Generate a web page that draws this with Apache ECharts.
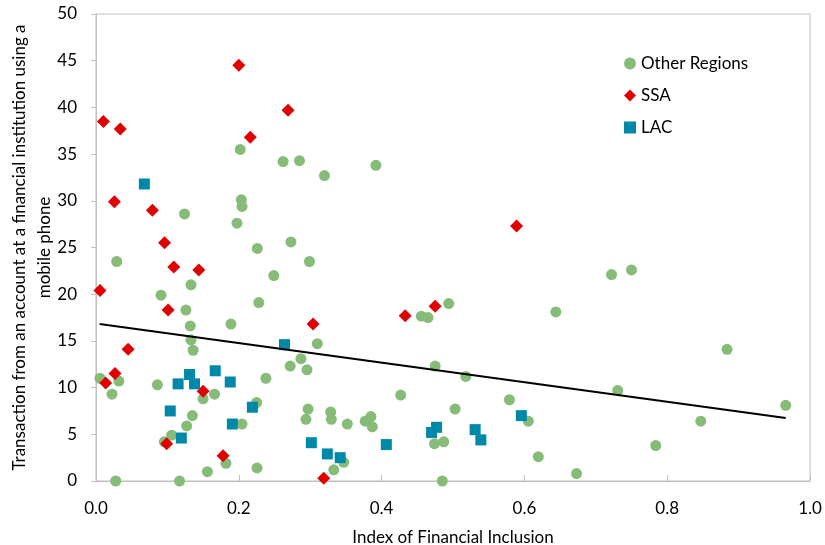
<!DOCTYPE html>
<html>
<head>
<meta charset="utf-8">
<script src="https://cdn.jsdelivr.net/npm/echarts@6/dist/echarts.min.js"></script>
<style>
html,body{margin:0;padding:0;background:#fff;}
#c{width:825px;height:545px;}
</style>
</head>
<body>
<div id="c"></div>
<script>
// ---- Data ----
var otherX = [0.202,0.262,0.285,0.320,0.2035,0.2045,0.124,0.1975,0.273,0.226,0.392,
  0.029,0.299,0.249,0.133,0.091,0.228,0.126,0.132,0.189,0.133,0.136,0.310,0.287,0.272,0.2955,
  0.0056,0.032,0.0224,0.086,0.238,0.150,0.166,0.225,0.135,0.127,0.2045,0.297,0.294,0.106,0.0957,
  0.182,0.156,0.2255,0.0276,0.117,
  0.4556,0.465,0.494,0.644,0.475,0.518,0.4267,0.579,0.503,0.3287,0.3296,0.352,0.377,0.385,0.387,
  0.6055,0.474,0.487,0.347,0.333,0.6195,0.485,
  0.722,0.750,0.8838,0.7307,0.966,0.847,0.784,0.673];
var otherY = [35.5,34.2,34.3,32.7,30.1,29.4,28.6,27.6,25.6,24.9,33.8,
  23.5,23.5,22.0,21.0,19.9,19.1,18.3,16.6,16.8,15.1,14.0,14.7,13.1,12.3,11.9,
  11.0,10.7,9.3,10.3,11.0,8.8,9.3,8.4,7.0,5.9,6.1,7.7,6.6,4.9,4.2,
  1.9,1.0,1.4,0.0,0.0,
  17.65,17.5,19.0,18.1,12.3,11.2,9.2,8.7,7.7,7.4,6.6,6.1,6.4,6.9,5.8,
  6.4,4.0,4.2,2.0,1.2,2.6,0.0,
  22.1,22.6,14.1,9.7,8.1,6.4,3.8,0.8];

var ssaX = [0.200,0.0103,0.034,0.269,0.216,0.0257,0.079,0.096,0.589,0.109,0.144,0.0056,0.101,
  0.304,0.045,0.0266,0.0136,0.150,0.099,0.178,0.319,0.433,0.475];
var ssaY = [44.5,38.5,37.7,39.7,36.8,29.9,29.0,25.5,27.3,22.9,22.6,20.4,18.3,
  16.8,14.1,11.5,10.5,9.6,4.0,2.7,0.3,17.7,18.7];

var lacX = [0.0677,0.264,0.115,0.131,0.138,0.167,0.188,0.219,0.104,0.191,0.1195,0.3016,0.324,
  0.5957,0.470,0.477,0.531,0.539,0.4066,0.342];
var lacY = [31.8,14.6,10.4,11.4,10.4,11.8,10.6,7.9,7.5,6.1,4.6,4.1,2.9,
  7.0,5.2,5.75,5.5,4.4,3.9,2.5];

var trendX = [0.005, 0.966];
var trendY = [16.8, 6.75];

var seriesNames = ['Other Regions', 'SSA', 'LAC'];
var xTicks = [0, 0.2, 0.4, 0.6, 0.8, 1.0];
var yTicks = [0, 5, 10, 15, 20, 25, 30, 35, 40, 45, 50];

function pairs(xs, ys){ return xs.map(function(x,i){ return [x, ys[i]]; }); }

var FONT = 'Lato, "Open Sans", sans-serif';
var chart = echarts.init(document.getElementById('c'), null, {renderer:'canvas'});
chart.setOption({
  animation: false,
  backgroundColor: '#ffffff',
  grid: {left: 96, right: 15, top: 14, bottom: 64, show: true, borderColor: '#BFBFBF', borderWidth: 1,
    outerBoundsMode: 'none', containLabel: false},
  legend: {
    orient: 'vertical', left: 619, top: 50, itemGap: 15,
    itemWidth: 12, itemHeight: 12,
    textStyle: {fontFamily: FONT, fontSize: 17, color: '#000'},
    data: [
      {name: seriesNames[0], icon: 'circle', itemStyle:{color:'#86BC78'}},
      {name: seriesNames[1], icon: 'diamond', itemStyle:{color:'#E00000'}},
      {name: seriesNames[2], icon: 'rect', itemStyle:{color:'#0088A8'}}
    ]
  },
  xAxis: {
    type: 'value', min: xTicks[0], max: xTicks[xTicks.length-1], interval: 0.2,
    name: 'Index of Financial Inclusion', nameLocation: 'middle', nameGap: 48,
    nameMoveOverlap: false,
    nameTextStyle: {fontFamily: FONT, fontSize: 17, color: '#000'},
    axisLine: {show: true, lineStyle: {color: '#BFBFBF'}},
    axisTick: {show: true, inside: true, length: 6, lineStyle: {color: '#BFBFBF'}},
    axisLabel: {fontFamily: FONT, fontSize: 17, color: '#000', margin: 19,
      formatter: function(v){ return v.toFixed(1); }},
    splitLine: {show: false}
  },
  yAxis: {
    type: 'value', min: yTicks[0], max: yTicks[yTicks.length-1], interval: 5,
    name: 'Transaction from an account at a financial institution using a\nmobile phone',
    nameLocation: 'middle', nameRotate: 90, nameGap: 39, nameMoveOverlap: false,
    nameTextStyle: {fontFamily: FONT, fontSize: 17, color: '#000', lineHeight: 25},
    axisLine: {show: true, lineStyle: {color: '#BFBFBF'}},
    axisTick: {show: true, inside: false, length: 5, lineStyle: {color: '#BFBFBF'}},
    axisLabel: {fontFamily: FONT, fontSize: 17, color: '#000', margin: 19},
    splitLine: {show: false}
  },
  series: [
    {name: seriesNames[0], type: 'scatter', symbol: 'circle', symbolSize: 11,
      itemStyle: {color: '#86BC78', opacity: 1}, data: pairs(otherX, otherY), z: 2},
    {name: seriesNames[1], type: 'scatter', symbol: 'diamond', symbolSize: 13,
      itemStyle: {color: '#E00000', opacity: 1}, data: pairs(ssaX, ssaY), z: 3},
    {name: seriesNames[2], type: 'scatter', symbol: 'rect', symbolSize: 11,
      itemStyle: {color: '#0088A8', opacity: 1}, data: pairs(lacX, lacY), z: 4},
    {name: 'Trend', type: 'line', symbol: 'none', data: pairs(trendX, trendY),
      lineStyle: {color: '#000', width: 2}, z: 5, silent: true}
  ]
});
</script>
</body>
</html>
